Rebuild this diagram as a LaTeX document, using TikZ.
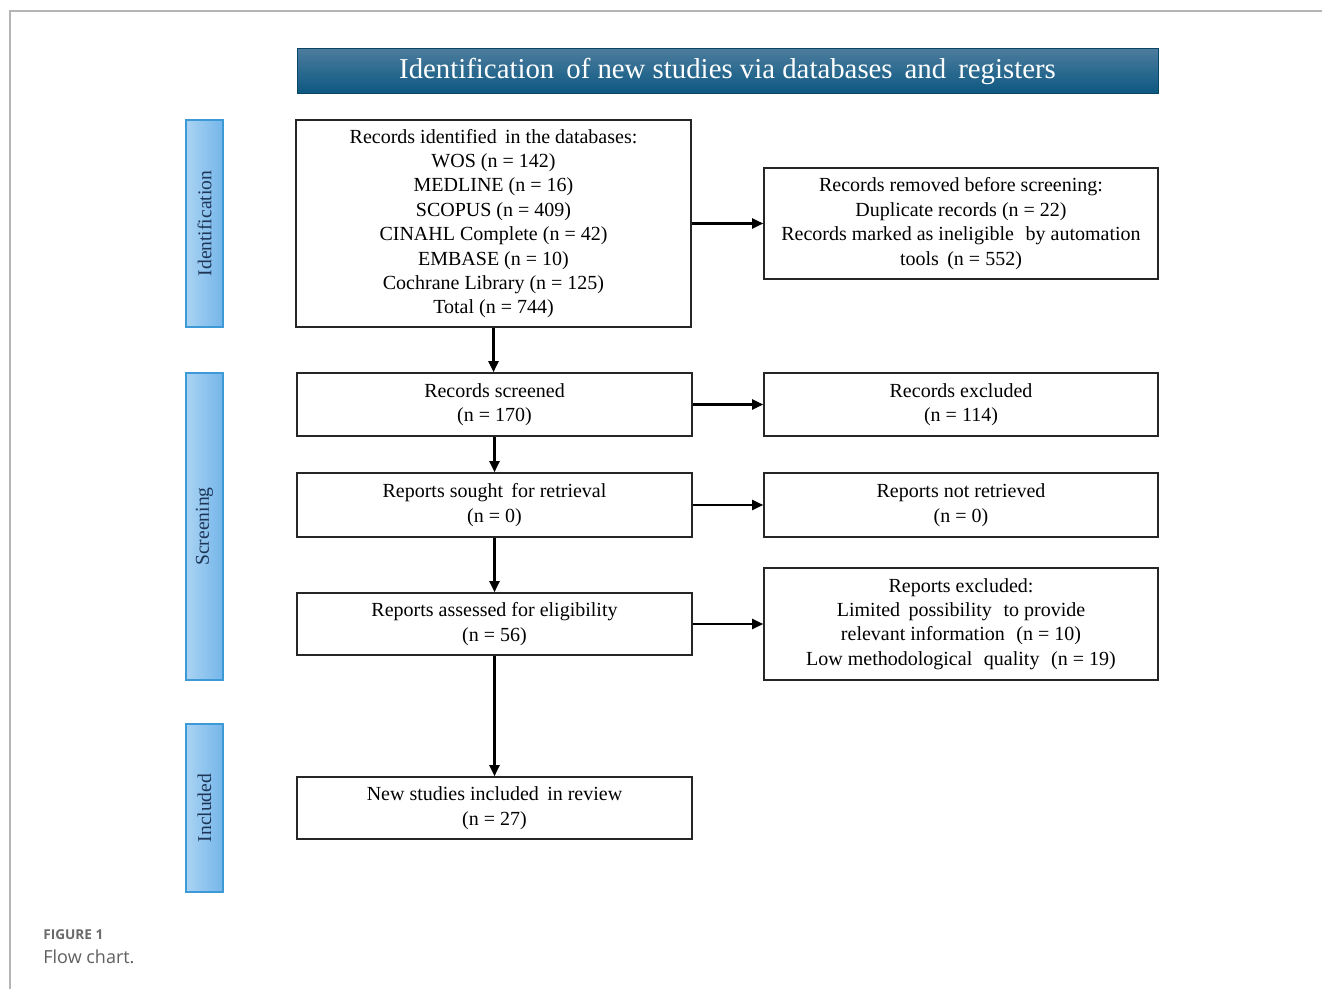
\documentclass[tikz,border=0pt]{standalone}
\usepackage{fontspec}
\setmainfont{Liberation Serif}
\newfontfamily\capfont{Open Sans}
\usetikzlibrary{shapes,arrows.meta,positioning,calc,fit}

\definecolor{headtop}{HTML}{4C7C9E}
\definecolor{headbot}{HTML}{0B5780}
\definecolor{barleft}{HTML}{AAD3F3}
\definecolor{barright}{HTML}{74B6EA}
\definecolor{barline}{HTML}{3E9AD6}
\definecolor{bartext}{HTML}{1E3556}
\definecolor{framegray}{HTML}{B4B4B4}
\definecolor{capgray}{HTML}{6A6A6A}

\begin{document}
\begin{tikzpicture}[x=0.5pt, y=-0.5pt,
  box/.style={draw=black!85, line width=0.8pt, rectangle, minimum width=197.5pt, align=center, inner sep=0pt, font=\fontsize{10}{12.2}\selectfont},
  sidebar/.style={draw=barline, line width=0.6pt, left color=barleft, right color=barright, minimum width=18.5pt, inner sep=0pt},
  sidetext/.style={rotate=90, text=bartext, font=\fontsize{9.8}{11}\selectfont},
  flow/.style={line width=1.1pt, -{Triangle[length=5.5pt, width=5pt]}}]
\useasboundingbox (0,0) rectangle (1322,989);

% frame of the figure
\draw[framegray, line width=0.8pt] (1322,11) -- (10,11) -- (10,989);

% header
\node[draw=headbot!80!black, line width=0.5pt, top color=headtop, bottom color=headbot, minimum width=430.5pt, minimum height=22.5pt, inner sep=0pt, text=white, font=\fontsize{14.4}{16}\selectfont] (head) at (727.5,71.5) {Identification\, of new studies via databases\, and\, registers};

% side bars
\node[sidebar, minimum height=103.5pt] (barident) at (204.5,223.5) {};
\node[sidetext] at (barident) {Identification};
\node[sidebar, minimum height=153.5pt] (barscreen) at (204.5,526.5) {};
\node[sidetext] at (barscreen) {Screening};
\node[sidebar, minimum height=84pt] (barincl) at (204.5,808) {};
\node[sidetext] at (barincl) {Included};

% identification
\node[box, minimum height=103.5pt] (ident) at (493.5,223.5) {
Records identified\, in the databases: \\
WOS (n = 142) \\
MEDLINE (n = 16) \\
SCOPUS (n = 409) \\
CINAHL Complete (n = 42) \\
EMBASE (n = 10) \\
Cochrane Library (n = 125) \\
Total (n = 744)
};
\node[box, minimum width=197pt, minimum height=55.5pt] (removed) at (961,223.5) {
Records removed before screening: \\
Duplicate records (n = 22) \\
Records marked as ineligible\,\, by automation \\
tools\, (n = 552)
};

% screening
\node[box, minimum height=31.5pt] (screened) at (494.5,404.5) {Records screened \\ (n = 170)};
\node[box, minimum width=197pt, minimum height=31.5pt] (excluded) at (961,404.5) {Records excluded \\ (n = 114)};

\node[box, minimum height=32pt] (sought) at (494.5,505) {Reports sought\, for retrieval \\ (n = 0)};
\node[box, minimum width=197pt, minimum height=32pt] (notretr) at (961,505) {Reports not retrieved \\ (n = 0)};

\node[box, minimum height=31pt] (assessed) at (494.5,624) {Reports assessed for eligibility \\ (n = 56)};
\node[box, minimum width=197pt, minimum height=56pt] (repexcl) at (961,624) {
Reports excluded: \\
Limited\, possibility\,\, to provide \\
relevant information\,\, (n = 10) \\
Low methodological\,\, quality\,\, (n = 19)
};

% included
\node[box, minimum height=31pt] (included) at (494.5,808) {New studies included\, in review \\ (n = 27)};

% arrows
\draw[flow] (ident.south) -- (ident.south |- screened.north);
\draw[flow] (screened) -- (sought);
\draw[flow] (sought) -- (assessed);
\draw[flow] (assessed) -- (included);
\draw[flow] (ident.east) -- (removed.west);
\draw[flow] (screened) -- (excluded);
\draw[flow] (sought) -- (notretr);
\draw[flow] (assessed) -- (repexcl);

% caption
\node[anchor=base west, inner sep=0pt, text=capgray, font=\capfont\bfseries\fontsize{6.8}{8}\selectfont] (figlabel) at (43,939) {FIGURE 1};
\node[anchor=base west, inner sep=0pt, text=capgray!90!black, font=\capfont\fontsize{9}{10}\selectfont] (figcap) at (43,963) {Flow chart.};
\end{tikzpicture}
\end{document}
